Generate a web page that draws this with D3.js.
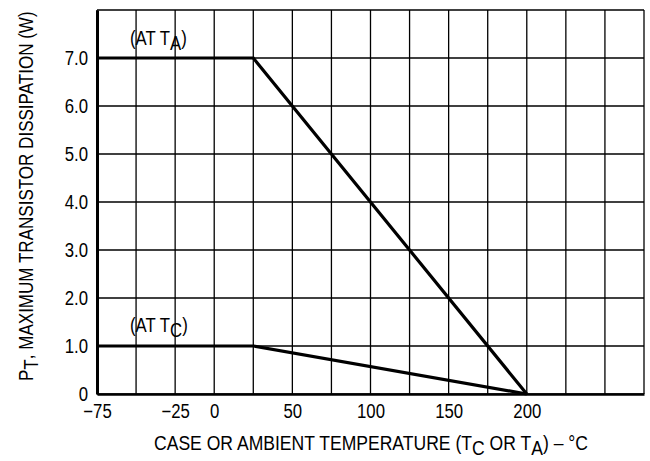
<!DOCTYPE html>
<html>
<head>
<meta charset="utf-8">
<script src="https://cdn.jsdelivr.net/npm/d3@7"></script>
<style>
  html, body { margin: 0; padding: 0; background: #fff; }
  svg text { font-family: "Liberation Sans", Arial, sans-serif; fill: #000; }
</style>
</head>
<body>
<svg id="chart" width="650" height="461"></svg>
<script>
// ---- data ----
const xGridValues = [-75, -50, -25, 0, 25, 50, 75, 100, 125, 150, 175, 200, 225, 250, 275];
const xTickLabels = [-75, -25, 0, 50, 100, 150, 200];
const yGridValues = [0, 1, 2, 3, 4, 5, 6, 7, 8];
const yTickLabels = ["0", "1.0", "2.0", "3.0", "4.0", "5.0", "6.0", "7.0"];
const ambientTemp = [-75, 25, 200];
const ambientPower = [7.0, 7.0, 0];
const caseTemp = [-75, 25, 200];
const casePower = [1.0, 1.0, 0];

const svg = d3.select("#chart");
const margin = { left: 97, right: 6, top: 10, bottom: 67 };
const W = 650, H = 461;

const x = d3.scaleLinear().domain([-75, 275]).range([margin.left, W - margin.right]);
const y = d3.scaleLinear().domain([0, 8]).range([H - margin.bottom, margin.top]);

// grid
const grid = svg.append("g");
grid.selectAll("line.v").data(xGridValues).join("line")
  .attr("x1", d => x(d)).attr("x2", d => x(d))
  .attr("y1", y(0)).attr("y2", y(8))
  .attr("stroke", "#000").attr("stroke-width", 1.3);
grid.selectAll("line.h").data(yGridValues).join("line")
  .attr("x1", x(-75)).attr("x2", x(275))
  .attr("y1", d => y(d)).attr("y2", d => y(d))
  .attr("stroke", "#000").attr("stroke-width", 1.3);

const FS = 19.5;
const SX = 0.86;
// axes
const xAxis = d3.axisBottom(x).tickValues(xTickLabels).tickSize(0).tickPadding(10)
  .tickFormat(d => d < 0 ? "\u2212" + Math.abs(d) : String(d));
const gx = svg.append("g").attr("transform", `translate(0,${y(0)})`).call(xAxis);
gx.select(".domain").attr("stroke", "#000").attr("stroke-width", 2.5);
gx.selectAll("text").attr("font-size", FS).attr("font-family", null)
  .attr("transform", `scale(${SX},1)`);

const yAxis = d3.axisLeft(y).tickValues(d3.range(yTickLabels.length)).tickSize(0).tickPadding(0)
  .tickFormat((d, i) => yTickLabels[i]);
const gy = svg.append("g").attr("transform", `translate(${x(-75)},0)`).call(yAxis);
gy.select(".domain").attr("stroke", "#000").attr("stroke-width", 3);
gy.selectAll("text").attr("font-size", FS).attr("font-family", null)
  .attr("x", 0).attr("transform", `translate(-9,0) scale(${SX},1)`);

// lines
const line = d3.line().x(d => x(d[0])).y(d => y(d[1]));
svg.append("path").datum(d3.zip(ambientTemp, ambientPower))
  .attr("d", line).attr("fill", "none").attr("stroke", "#000").attr("stroke-width", 3.2);
svg.append("path").datum(d3.zip(caseTemp, casePower))
  .attr("d", line).attr("fill", "none").attr("stroke", "#000").attr("stroke-width", 3.2);

// annotations
function subLabel(sel, main, sub, after) {
  sel.append("tspan").text(main);
  sel.append("tspan").attr("dy", 5).text(sub);
  sel.append("tspan").attr("dy", -5).text(after);
}
const la = svg.append("text").attr("transform", `translate(130,45) scale(${SX},1)`).attr("font-size", FS);
subLabel(la, "(AT T", "A", ")");
const lc = svg.append("text").attr("transform", `translate(130,332) scale(${SX},1)`).attr("font-size", FS);
subLabel(lc, "(AT T", "C", ")");

// x title
const xt = svg.append("text").attr("font-size", FS);
xt.append("tspan").text("CASE OR AMBIENT TEMPERATURE (T");
xt.append("tspan").attr("dy", 5).text("C");
xt.append("tspan").attr("dy", -5).text(" OR T");
xt.append("tspan").attr("dy", 5).text("A");
xt.append("tspan").attr("dy", -5).text(") \u2013 \u00B0C");
const xLen = xt.node().getComputedTextLength();
xt.attr("transform", `translate(154,450) scale(${433 / xLen},1)`);

// y title
const yt = svg.append("text").attr("font-size", FS);
yt.append("tspan").text("P");
yt.append("tspan").attr("dy", 5).text("T");
yt.append("tspan").attr("dy", -5).text(", MAXIMUM TRANSISTOR DISSIPATION (W)");
const yLen = yt.node().getComputedTextLength();
yt.attr("transform", `translate(33,381) rotate(-90) scale(${368 / yLen},1)`);
</script>
</body>
</html>
